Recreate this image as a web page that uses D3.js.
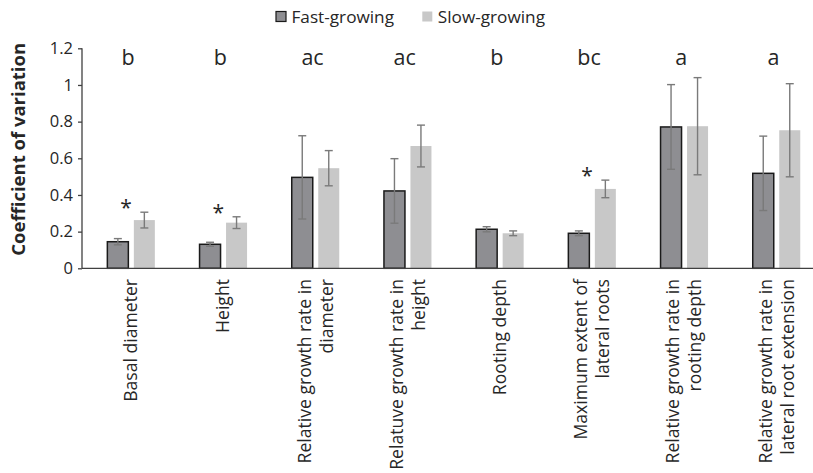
<!DOCTYPE html>
<html>
<head>
<meta charset="utf-8">
<script src="https://cdn.jsdelivr.net/npm/d3@7"></script>
<style>
  body { margin: 0; background: #fff; }
  text { font-family: "Open Sans", sans-serif; fill: #262626; }
</style>
</head>
<body>
<script>
// categories (x labels split in lines)
var categories = [
  ["Basal diameter"],
  ["Height"],
  ["Relative growth rate in", "diameter"],
  ["Relatuve growth rate in", "height"],
  ["Rooting depth"],
  ["Maximum extent of", "lateral roots"],
  ["Relative growth rate in", "rooting depth"],
  ["Relative growth rate in", "lateral root extension"]
]
var seriesNames = ["Fast-growing", "Slow-growing"]
var fastValues = [0.145, 0.131, 0.496, 0.422, 0.213, 0.191, 0.771, 0.518]
var fastErrors = [0.017, 0.011, 0.227, 0.176, 0.014, 0.013, 0.231, 0.203]
var slowValues = [0.263, 0.249, 0.546, 0.667, 0.191, 0.433, 0.775, 0.753]
var slowErrors = [0.043, 0.032, 0.096, 0.114, 0.013, 0.048, 0.265, 0.254]
var groupLetters = ["b", "b", "ac", "ac", "b", "bc", "a", "a"]
var significant = [true, true, false, false, false, true, false, false]
var yTicks = [0, 0.2, 0.4, 0.6, 0.8, 1, 1.2]
var yTickLabels = ["0", "0.2", "0.4", "0.6", "0.8", "1", "1.2"]

var W = 813, H = 473
var colors = {fast: "#8e8e92", slow: "#c8c8c8", err: "#7a7a7a", axis: "#404040"}

var svg = d3.select("body").append("svg")
  .attr("width", W)
  .attr("height", H)

var y = d3.scaleLinear().domain([0, 1.2]).range([268.3, 48.3])

var x0 = d3.scaleBand()
  .domain(d3.range(categories.length))
  .range([85, 822.6])

var x1 = d3.scaleBand()
  .domain(seriesNames)
  .range([0, 47.5])
  .paddingInner(0.2075)

var groupOffset = (x0.bandwidth() - 47.5) / 2

var rows = categories.map(function(c, i) {
  return {
    i: i,
    bars: [
      {s: seriesNames[0], v: fastValues[i], e: fastErrors[i], fill: colors.fast},
      {s: seriesNames[1], v: slowValues[i], e: slowErrors[i], fill: colors.slow}
    ]
  }
})

// bars
var groups = svg.selectAll("g.cat")
  .data(rows)
  .enter().append("g")
  .attr("class", "cat")
  .attr("transform", d => "translate(" + (x0(d.i) + groupOffset) + ",0)")

groups.selectAll("rect")
  .data(d => d.bars)
  .enter().append("rect")
  .attr("x", d => x1(d.s))
  .attr("y", d => y(d.v))
  .attr("width", x1.bandwidth())
  .attr("height", d => y(0) - y(d.v))
  .attr("fill", d => d.fill)
  .attr("stroke", d => d.s === seriesNames[0] ? "#1a1a1a" : "none")
  .attr("stroke-width", 1.5)

// error bars
var err = groups.selectAll("g.err")
  .data(d => d.bars)
  .enter().append("g")
  .attr("class", "err")
  .attr("stroke", colors.err)
  .attr("stroke-width", 1.4)

err.append("line")
  .attr("x1", d => x1(d.s) + x1.bandwidth() / 2)
  .attr("x2", d => x1(d.s) + x1.bandwidth() / 2)
  .attr("y1", d => y(d.v - d.e))
  .attr("y2", d => y(d.v + d.e))
err.selectAll("line.cap")
  .data(d => [{d: d, v: d.v - d.e}, {d: d, v: d.v + d.e}])
  .enter().append("line")
  .attr("class", "cap")
  .attr("x1", c => x1(c.d.s) + x1.bandwidth() / 2 - 4)
  .attr("x2", c => x1(c.d.s) + x1.bandwidth() / 2 + 4)
  .attr("y1", c => y(c.v))
  .attr("y2", c => y(c.v))

// axes
var yAxis = d3.axisLeft(y)
  .tickValues(yTicks)
  .tickFormat((d, i) => yTickLabels[i])
  .tickSize(4)
  .tickPadding(5)

var yAxisG = svg.append("g")
  .attr("transform", "translate(82,0)")
  .call(yAxis)
yAxisG.select(".domain").attr("stroke", colors.axis).attr("stroke-width", 1.3)
  .attr("d", "M0," + y(1.2) + "V" + y(0))
yAxisG.selectAll(".tick line").attr("stroke", colors.axis).attr("stroke-width", 1.3)
yAxisG.selectAll(".tick text")
  .style("font-family", "'Open Sans', sans-serif")
  .style("font-size", "16.5px")
  .attr("fill", "#262626")

svg.append("line")
  .attr("x1", 82).attr("x2", W)
  .attr("y1", y(0)).attr("y2", y(0))
  .attr("stroke", colors.axis)
  .attr("stroke-width", 1.3)

// y title
svg.append("text")
  .attr("transform", "translate(25," + ((y(0) + y(1.2)) / 2 - 9) + ") rotate(-90)")
  .attr("text-anchor", "middle")
  .style("font-size", "18.5px")
  .style("font-weight", "bold")
  .text("Coefficient of variation")

// x labels
var lineGap = 22
svg.selectAll("text.xlab")
  .data(categories)
  .enter().append("text")
  .attr("class", "xlab")
  .attr("transform", (d, i) => {
    var cx = x0(i) + x0.bandwidth() / 2 + 6 - (d.length - 1) * lineGap / 2
    return "translate(" + cx + ",279) rotate(-90)"
  })
  .attr("text-anchor", "end")
  .style("font-size", "17.6px")
  .selectAll("tspan")
  .data(d => d)
  .enter().append("tspan")
  .attr("x", 0)
  .attr("dy", (d, j) => j === 0 ? 0 : lineGap)
  .text(d => d)

// group letters
svg.selectAll("text.letter")
  .data(groupLetters)
  .enter().append("text")
  .attr("class", "letter")
  .attr("x", (d, i) => x0(i) + x0.bandwidth() / 2 - 3)
  .attr("y", y(1.2) + 17)
  .attr("text-anchor", "middle")
  .style("font-size", "21.5px")
  .text(d => d)

// significance stars
svg.selectAll("text.star")
  .data(rows.filter(r => significant[r.i]))
  .enter().append("text")
  .attr("class", "star")
  .attr("x", d => x0(d.i) + x0.bandwidth() / 2 - 5)
  .attr("y", d => y(d3.max(d.bars, b => b.v + b.e)) - 8 + 11)
  .attr("text-anchor", "middle")
  .style("font-size", "21px")
  .text("*")

// legend
var legend = svg.append("g")
var legX = [276, 422.3]
legend.selectAll("rect")
  .data(seriesNames)
  .enter().append("rect")
  .attr("x", (d, i) => legX[i])
  .attr("y", 11.5)
  .attr("width", 10)
  .attr("height", 10)
  .attr("fill", (d, i) => i === 0 ? colors.fast : colors.slow)
  .attr("stroke", (d, i) => i === 0 ? "#1a1a1a" : "none")
  .attr("stroke-width", 1.2)
legend.selectAll("text")
  .data(seriesNames)
  .enter().append("text")
  .attr("x", (d, i) => legX[i] + 15.5)
  .attr("y", 23)
  .style("font-size", "17.2px")
  .text(d => d)
</script>
</body>
</html>
